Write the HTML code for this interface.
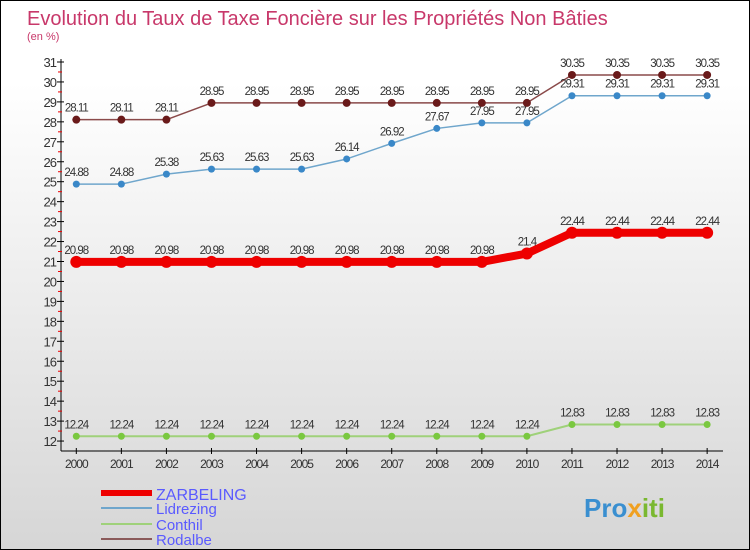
<!DOCTYPE html>
<html><head><meta charset="utf-8"><style>
body{margin:0}
#c{width:748px;height:548px;border:1px solid #000;background:linear-gradient(#fff,#fff 15%,#d6d6d6);position:relative;font-family:"Liberation Sans",sans-serif;overflow:hidden}
text{font-family:"Liberation Sans",sans-serif}
</style></head><body>
<div id="c">
<svg id="s" width="748" height="548">
<text x="26" y="24" font-size="20" fill="#c8386a">Evolution du Taux de Taxe Foncière sur les Propriétés Non Bâties</text>
<text x="26" y="39" font-size="11" fill="#c8386a">(en %)</text>
<g id="axes"></g><g id="series"></g>
<g>
<line x1="100" y1="492" x2="151" y2="492" stroke="#e00" stroke-width="6"/>
<text x="155" y="499" font-size="16" fill="#5a5aff">ZARBELING</text>
<line x1="100" y1="507" x2="151" y2="507" stroke="#6fa6cc" stroke-width="2"/>
<text x="155" y="513" font-size="15" fill="#5a5aff">Lidrezing</text>
<line x1="100" y1="523" x2="151" y2="523" stroke="#9fd17a" stroke-width="2"/>
<text x="155" y="529" font-size="15" fill="#5a5aff">Conthil</text>
<line x1="100" y1="538" x2="151" y2="538" stroke="#8a5a5a" stroke-width="2"/>
<text x="155" y="544" font-size="15" fill="#5a5aff">Rodalbe</text>
</g>
<text x="583" y="516" font-size="26" font-weight="bold" fill="#3a8fd0">Pro<tspan fill="#f0a020">x</tspan><tspan fill="#7ab830">iti</tspan></text>
</svg></div>
<script>
const years=[2000,2001,2002,2003,2004,2005,2006,2007,2008,2009,2010,2011,2012,2013,2014];
const zarbeling=[20.98,20.98,20.98,20.98,20.98,20.98,20.98,20.98,20.98,20.98,21.4,22.44,22.44,22.44,22.44];
const lidrezing=[24.88,24.88,25.38,25.63,25.63,25.63,26.14,26.92,27.67,27.95,27.95,29.31,29.31,29.31,29.31];
const conthil=[12.24,12.24,12.24,12.24,12.24,12.24,12.24,12.24,12.24,12.24,12.24,12.83,12.83,12.83,12.83];
const rodalbe=[28.11,28.11,28.11,28.95,28.95,28.95,28.95,28.95,28.95,28.95,28.95,30.35,30.35,30.35,30.35];
const yTicks=[12,13,14,15,16,17,18,19,20,21,22,23,24,25,26,27,28,29,30,31];
const NS='http://www.w3.org/2000/svg';
const X=y=>75.3+(y-2000)*45.06, Y=v=>61+(31-v)*19.95;
function mk(t,a,p){const e=document.createElementNS(NS,t);for(const k in a)e.setAttribute(k,a[k]);p.appendChild(e);return e;}
const ax=document.getElementById('axes'),sr=document.getElementById('series');
const ya=mk('line',{x1:60,y1:58,x2:60,y2:450,stroke:'#000'},ax);


const xa=mk('line',{x1:60,y1:450,x2:722,y2:450,stroke:'#000'},ax);


yTicks.forEach(v=>{
 mk('line',{x1:56,x2:63,y1:Y(v),y2:Y(v),stroke:'#000'},ax);
 if(v<31)mk('line',{x1:57,x2:61,y1:Y(v+0.5),y2:Y(v+0.5),stroke:'#e00'},ax);
 const t=mk('text',{x:55,y:Y(v)+5,'font-size':13,'text-anchor':'end',fill:'#333','letter-spacing':'-1'},ax);
 t.textContent=v;
 
 
});
years.forEach(y=>{
 mk('line',{x1:X(y),x2:X(y),y1:447,y2:453,stroke:'#000'},ax);
 const t=mk('text',{x:X(y),y:467,'font-size':12,'text-anchor':'middle',fill:'#333','letter-spacing':'-1'},ax);
 t.textContent=y;
 
 
});
function draw(vals,name,col,w,dot,r){
 const g=mk('g',{},sr);
 
 
 mk('polyline',{points:vals.map((v,i)=>X(years[i])+','+Y(v)).join(' '),fill:'none',stroke:col,'stroke-width':w,'stroke-linejoin':'round'},g);
 vals.forEach((v,i)=>{
  const c=mk('circle',{cx:X(years[i]),cy:Y(v),r:r,fill:dot},g);
  
  
  const t=mk('text',{x:X(years[i]),y:Y(v)-8,'font-size':11.5,'text-anchor':'middle',fill:'#333','letter-spacing':'-1'},g);
  t.textContent=v;
  
  
 });
}
draw(rodalbe,'rodalbe','#8a4a4a',1.5,'#6a1a1a',4);
draw(lidrezing,'lidrezing','#6fa6cc',1.5,'#3a88c8',3.5);
draw(conthil,'conthil','#9fd17a',2,'#7ac840',3.5);
draw(zarbeling,'zarbeling','#e00',8,'#e00',6);
</script>
</body></html>
